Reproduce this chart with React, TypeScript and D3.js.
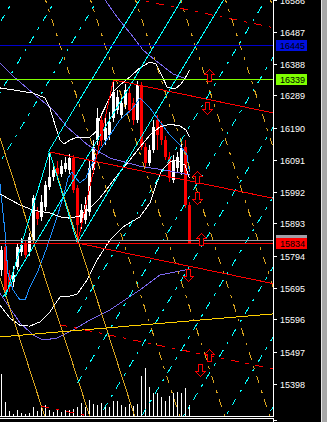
import React from "react";
import * as d3 from "d3";

// ---- candles (bar index 0..47) ----
const opens = [15751,15822,15735,15713,15760,15806,15831,15806,15843,15930,15915,15946,16007,16038,16066,16048,16063,16060,16097,16004,15896,15905,15930,16060,16153,16215,16153,16168,16221,16246,16230,16261,16298,16267,16215,16323,16131,16082,16122,16215,16199,16153,16100,16029,16066,16054,16131,15952];
const highs = [15825,15831,15751,15763,15831,15850,15843,15865,15983,15946,15983,16026,16116,16082,16088,16091,16100,16110,16106,16014,15955,15976,16091,16153,16252,16233,16221,16239,16339,16308,16289,16326,16314,16283,16335,16332,16144,16137,16215,16230,16212,16165,16116,16106,16116,16144,16153,15961];
const lows = [15732,15667,15683,15698,15751,15794,15788,15794,15834,15890,15902,15933,15998,16026,16035,16038,16054,16048,15989,15834,15877,15893,15918,16048,16137,16134,16137,16153,16209,16233,16221,16249,16236,16199,16205,16122,16069,16072,16113,16122,16137,16091,16023,16020,16054,16045,15942,15834];
const closes = [15813,15689,15698,15735,15822,15828,15797,15853,15973,15908,15961,16014,16038,16060,16048,16072,16082,16097,15998,15890,15936,15952,16066,16131,16221,16153,16190,16209,16301,16286,16267,16308,16246,16215,16323,16131,16082,16122,16193,16168,16153,16100,16035,16091,16100,16128,15952,15834];
const volumes = [4200,1430,530,200,600,300,200,300,900,530,930,1100,600,430,670,430,600,600,670,930,1330,930,1600,1200,1100,1330,930,930,1500,1500,1100,930,1200,1000,1200,4000,4800,2900,2300,2300,1930,1530,2000,2270,2430,2330,2800,1100];

// ---- price axis ----
const tickPrices = [16586,16487,16388,16289,16190,16091,15992,15893,15794,15695,15596,15497,15398];

// ---- indicators: [bar, price] ----
const bbUpper: [number, number][] = [[-0.4,16314],[2.9,16308],[7.9,16298],[10.9,16283],[12.1,16252],[13.4,16199],[14.6,16153],[15.6,16140],[17.1,16153],[19.1,16162],[22.1,16162],[23.6,16178],[24.6,16221],[26.4,16267],[27.9,16301],[29.6,16323],[32.1,16348],[34.6,16376],[37.1,16394],[38.6,16388],[40.1,16351],[41.4,16317],[43.4,16311],[44.9,16326],[46.4,16354],[47,16369]];
const bbMiddle: [number, number][] = [[-0.4,15986],[4.6,15952],[7.9,15936],[12.1,15927],[14.6,15915],[17.1,15911],[19.6,15918],[22.1,15942],[24.6,15973],[27.1,16014],[29.6,16054],[32.1,16091],[34.6,16131],[37.1,16168],[39.6,16193],[42.1,16202],[44.6,16196],[46.1,16184],[47,16162]];
const bbLower: [number, number][] = [[-0.4,15642],[2.1,15602],[4.6,15580],[7.1,15577],[9.6,15590],[12.1,15621],[14.6,15667],[17.1,15670],[18.9,15676],[21.4,15720],[23.9,15782],[27.1,15843],[30.4,15884],[34.6,15915],[37.1,15958],[38.9,16023],[40.1,16060],[42.1,16085],[43.9,16091],[45.9,16075],[47,16035]];
const envUpper: [number, number][] = [[-0.4,17100],[12,16880],[20,16700],[24.6,16611],[25.9,16586],[28.9,16533],[32.9,16472],[35.4,16431],[38.4,16400],[42.9,16357],[47,16338]];
const envMiddle: [number, number][] = [[-0.4,16391],[3.4,16345],[8.4,16292],[12.9,16246],[16.4,16193],[21.6,16137],[27.1,16097],[34.6,16072],[42.1,16057],[47,16045]];
const envLower: [number, number][] = [[-0.4,15679],[4.6,15587],[7.9,15550],[10.4,15534],[13.9,15540],[16.4,15556],[17.9,15565],[22.1,15596],[27.1,15627],[34.6,15689],[39.6,15735],[45.9,15751],[47,15751]];
const maBlue: [number, number][] = [[-0.4,16020],[0.9,15865],[1.6,15741],[2.9,15689],[4.6,15658],[5.9,15658],[7.1,15698],[8.9,15741],[11.4,15822],[13.9,15915],[15.4,15976],[16.6,16035],[17.6,16054],[18.6,16035],[19.6,16020],[21.1,16035],[22.1,16066],[24.6,16122],[27.1,16168],[29.6,16215],[32.9,16252],[34.6,16283],[37.1,16252],[39.6,16209],[42.1,16168],[44.6,16137],[46.4,16106],[47,16054]];

// ---- objects ----
const pivotP1: [number, number] = [12, 16116];
const pivotP2: [number, number] = [19, 15834];
const pivotP3: [number, number] = [28, 16339];
const pivotLow0: [number, number] = [1, 15667];
const pitchforkLevels = [1, 2];
const cyanGrid = { slope: 20.6, step: 10.5, solidK: [0, -1, -2], solidFrom: [15834, 15667, 16116], leftK: [-5, -4, -3], rightK: [1, 2, 3, 4, 5, 6, 7] };
const orangeGrid = { slope: -38.4, step: 11.25, solidFullK: [-2, -1], dashedK: [1, 2, 3, 4, 5, 6] };
const yellowLine: [number, number][] = [[0, 15544], [67, 15614]];
const hLines = [
  { price: 16445, color: "#0000CD" },
  { price: 16339, color: "#7FFF00" },
  { price: 15843, color: "#A0A0A8" },
  { price: 15834, color: "#FF0000" },
];
const priceBoxes = [
  { price: 16445, bg: "#0010E0", label: true },
  { price: 16339, bg: "#7FFF00", label: true },
  { price: 15843, bg: "#A0A0A8", label: false },
  { price: 15834, bg: "#FF0000", label: true },
];
const arrows: [number, number, string][] = [
  [51.9, 16354, "up"], [51.4, 16252, "down"], [48.9, 16038, "up"], [48.9, 15973, "down"],
  [49.9, 15847, "up"], [46.6, 15735, "down"], [51.9, 15488, "up"], [49.6, 15441, "down"],
];

const PR = 273; // plot right
const PB = 416; // plot bottom
const DASH = "8,7,3,7";
const FONT = "'Liberation Sans', Arial, sans-serif";

export default function App() {
  const x = d3.scaleLinear().domain([0, 1]).range([1.5, 5.5]);
  const y = d3.scaleLinear().domain([15398, 16487]).range([384, 32]);
  const vy = d3.scaleLinear().domain([0, 5000]).range([PB, PB - 50]);
  const line = d3.line<[number, number]>().x((d) => x(d[0])).y((d) => y(d[1]));
  const seg = (a: [number, number], b: [number, number]) => `M${x(a[0])},${y(a[1])}L${x(b[0])},${y(b[1])}`;
  const crisp = (v: number) => Math.floor(v) + 0.5;

  // pitchfork
  const M: [number, number] = [(pivotP2[0] + pivotP3[0]) / 2, (pivotP2[1] + pivotP3[1]) / 2];
  const pfSlope = (M[1] - pivotP1[1]) / (M[0] - pivotP1[0]);
  const ray = (p: [number, number]) => seg(p, [p[0] + 100, p[1] + 100 * pfSlope]);
  const pfSolid = [ray(pivotP1), ray(pivotP2), ray(pivotP3), seg(pivotP2, pivotP3)];
  const pfDashed: string[] = [];
  pitchforkLevels.forEach((n) => {
    [pivotP2, pivotP3].forEach((P) => {
      pfDashed.push(ray([P[0] + n * (P[0] - M[0]), P[1] + n * (P[1] - M[1])]));
    });
  });

  // cyan grid
  const cBar = (k: number, p: number) => pivotP2[0] + cyanGrid.step * k + (p - pivotP2[1]) / cyanGrid.slope;
  const cyanSolid = cyanGrid.solidK.map((k, i) => {
    const p0 = cyanGrid.solidFrom[i];
    return seg([cBar(k, p0), p0], [cBar(k, p0 + 3000), p0 + 3000]);
  });
  const cyanDashed = [
    ...cyanGrid.leftK.map((k) => seg([cBar(k, 14000), 14000], [cBar(k, 18000), 18000])),
    ...cyanGrid.rightK.map((k) => {
      const p0 = pivotP2[1] + (pivotP2[0] - (pivotP2[0] + cyanGrid.step * k)) * cyanGrid.slope;
      return seg([pivotP2[0], p0], [cBar(k, p0 + 3000), p0 + 3000]);
    }),
  ];
  const cyanZig = [seg(pivotLow0, pivotP1), seg(pivotP1, pivotP2)];

  // orange grid
  const oBar = (k: number, p: number) => pivotP1[0] + orangeGrid.step * k + (p - pivotP1[1]) / orangeGrid.slope;
  const orangeSolid = [
    ...orangeGrid.solidFullK.map((k) => seg([oBar(k, 18000), 18000], [oBar(k, 14000), 14000])),
    seg(pivotP1, [oBar(0, 14000), 14000]),
  ];
  const orangeDashed = orangeGrid.dashedK.map((k) => seg([oBar(k, 18000), 18000], [oBar(k, 14000), 14000]));

  // yellow trend line extended
  const ys = (yellowLine[1][1] - yellowLine[0][1]) / (yellowLine[1][0] - yellowLine[0][0]);
  const yellowPath = seg([-5, yellowLine[0][1] - 5 * ys], [80, yellowLine[0][1] + 80 * ys]);

  const upArrow = "M0,-6L5,-1L2,-1L2,6L-2,6L-2,-1L-5,-1Z";
  const downArrow = "M0,6L5,1L2,1L2,-6L-2,-6L-2,1L-5,1Z";

  return (
    <svg width={327} height={422} style={{ position: "fixed", left: 0, top: 0, display: "block" }} shapeRendering="crispEdges">
      <defs>
        <clipPath id="plot">
          <rect x={0} y={0} width={PR} height={PB} />
        </clipPath>
      </defs>
      <rect x={0} y={0} width={327} height={422} fill="#000" />
      <g clipPath="url(#plot)">
        {volumes.map((v, i) => (
          <line key={"v" + i} x1={x(i)} x2={x(i)} y1={PB} y2={vy(v)} stroke="#fff" strokeWidth={1} />
        ))}
        {opens.map((o, i) => {
          const c = closes[i];
          const bull = c >= o;
          const col = bull ? "#fff" : "#ff0000";
          const top = Math.round(y(Math.max(o, c)));
          const bot = Math.round(y(Math.min(o, c)));
          return (
            <g key={"c" + i}>
              <line x1={x(i)} x2={x(i)} y1={Math.round(y(highs[i]))} y2={Math.round(y(lows[i]))} stroke={col} strokeWidth={1} />
              <rect x={x(i) - 1.5} y={top} width={3} height={Math.max(1, bot - top)} fill={col} />
            </g>
          );
        })}
        {[envUpper, envMiddle, envLower].map((d, i) => (
          <path key={"e" + i} d={line(d) || ""} fill="none" stroke="#7B68EE" strokeWidth={1} />
        ))}
        <path d={line(maBlue) || ""} fill="none" stroke="#1E90FF" strokeWidth={1} />
        {[bbUpper, bbMiddle, bbLower].map((d, i) => (
          <path key={"b" + i} d={line(d) || ""} fill="none" stroke="#fff" strokeWidth={1} />
        ))}
        {orangeDashed.map((d, i) => (
          <path key={"od" + i} d={d} stroke="#DAA520" strokeWidth={1} strokeDasharray={DASH} fill="none" />
        ))}
        {orangeSolid.map((d, i) => (
          <path key={"os" + i} d={d} stroke="#DAA520" strokeWidth={1} fill="none" />
        ))}
        {cyanDashed.map((d, i) => (
          <path key={"cd" + i} d={d} stroke="#00FFFF" strokeWidth={1} strokeDasharray={DASH} fill="none" />
        ))}
        {cyanSolid.map((d, i) => (
          <path key={"cs" + i} d={d} stroke="#00FFFF" strokeWidth={1} fill="none" />
        ))}
        {cyanZig.map((d, i) => (
          <path key={"cz" + i} d={d} stroke="#00FFFF" strokeWidth={1} fill="none" />
        ))}
        <path d={yellowPath} stroke="#FFD000" strokeWidth={1} fill="none" />
        {pfDashed.map((d, i) => (
          <path key={"pd" + i} d={d} stroke="#ff0000" strokeWidth={1} strokeDasharray={DASH} fill="none" />
        ))}
        {pfSolid.map((d, i) => (
          <path key={"ps" + i} d={d} stroke="#ff0000" strokeWidth={1} fill="none" />
        ))}
        {hLines.map((h, i) => (
          <line key={"h" + i} x1={0} x2={PR} y1={crisp(y(h.price))} y2={crisp(y(h.price))} stroke={h.color} strokeWidth={1} />
        ))}
        {arrows.map(([b, p, dir], i) => (
          <path key={"a" + i} d={dir === "up" ? upArrow : downArrow}
            transform={`translate(${Math.round(x(b)) + 0.5},${Math.round(y(p)) + 0.5})`}
            fill="#000" stroke="#ff0000" strokeWidth={1} />
        ))}
      </g>
      <line x1={0} x2={PR} y1={PB + 0.5} y2={PB + 0.5} stroke="#fff" />
      <line x1={0} x2={PR} y1={PB + 2.5} y2={PB + 2.5} stroke="#fff" />
      <line x1={PR + 0.5} x2={PR + 0.5} y1={0} y2={PB + 1} stroke="#fff" />
      <line x1={PR + 0.5} x2={PR + 0.5} y1={PB + 2} y2={422} stroke="#fff" />
      {tickPrices.map((p) => {
        const ty = crisp(y(p));
        return (
          <g key={"t" + p}>
            <line x1={PR} x2={PR + 4} y1={ty} y2={ty} stroke="#fff" />
            <text x={280} y={ty + 3.3} fill="#fff" fontSize={9} fontFamily={FONT}>{p}</text>
          </g>
        );
      })}
      {priceBoxes.map((b) => {
        const ty = crisp(y(b.price));
        return (
          <g key={"pb" + b.price}>
            <rect x={276} y={ty - 5.5} width={31} height={11} fill={b.bg} />
            {b.label && (
              <text x={280} y={ty + 3.3} fill="#000" fontSize={9} fontFamily={FONT}>{b.price}</text>
            )}
          </g>
        );
      })}
      <line x1={PR} x2={PR + 4} y1={420.5} y2={420.5} stroke="#fff" />
      <text x={280} y={427.5} fill="#fff" fontSize={9} fontFamily={FONT}>100.0</text>
      <rect x={321} y={0} width={6} height={422} fill="#a8a8a8" />
      <line x1={321.5} x2={321.5} y1={0} y2={422} stroke="#e8e8e8" />
    </svg>
  );
}
